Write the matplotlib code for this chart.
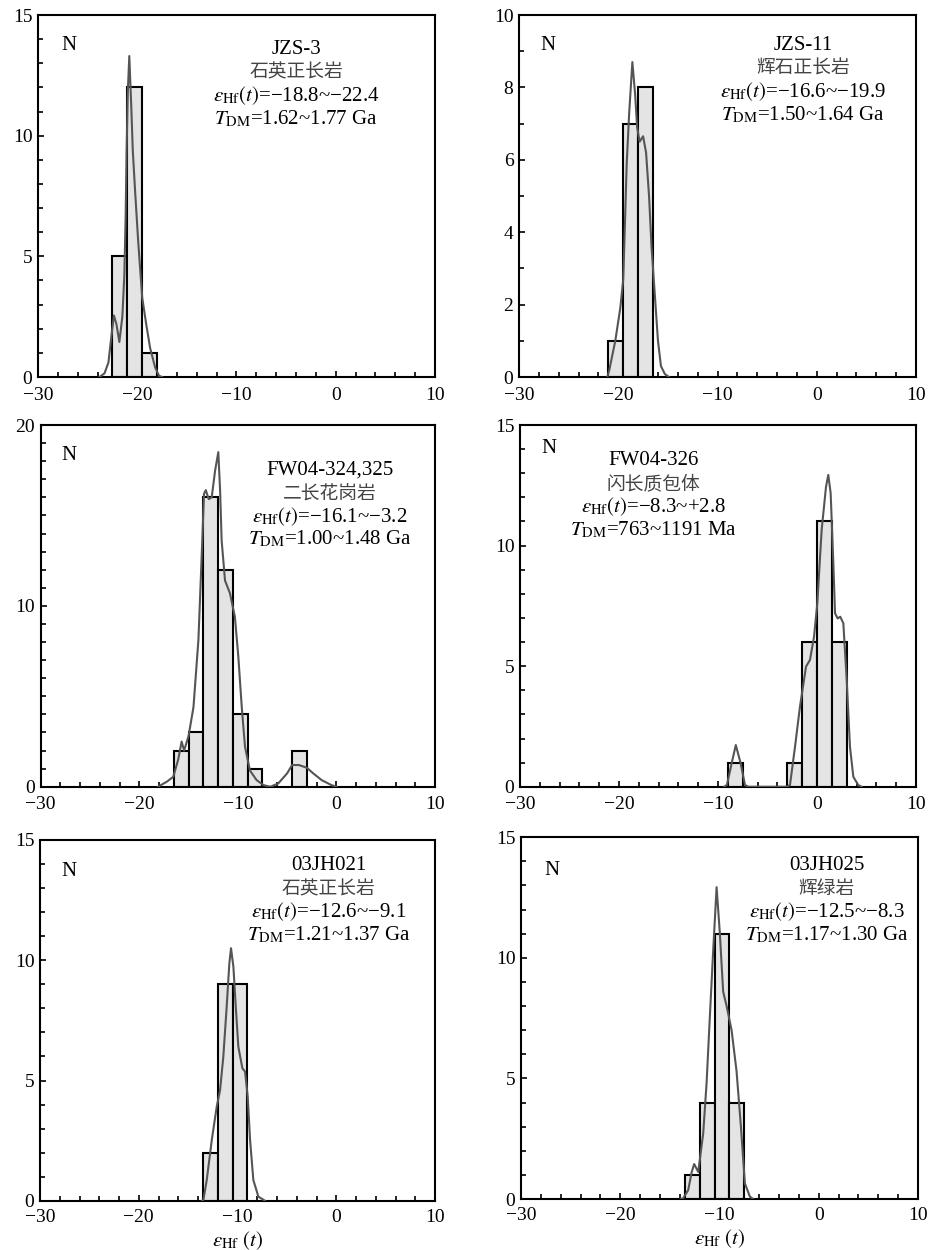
import numpy as np
import matplotlib
matplotlib.use('Agg')
import matplotlib.pyplot as plt
from matplotlib.ticker import MultipleLocator

plt.rcParams['font.family'] = ['Liberation Serif', 'DejaVu Serif']
plt.rcParams['mathtext.fontset'] = 'stix'
plt.rcParams['axes.unicode_minus'] = True

BIN_W = 1.5

# --- histogram bins (left edges) and counts ---
jzs3_bins = [-22.5, -21.0, -19.5]
jzs3_counts = [5, 12, 1]
jzs11_bins = [-21.0, -19.5, -18.0]
jzs11_counts = [1, 7, 8]
fw324_bins = [-16.5, -15.0, -13.5, -12.0, -10.5, -9.0, -4.5]
fw324_counts = [2, 3, 16, 12, 4, 1, 2]
fw326_bins = [-9.0, -3.0, -1.5, 0.0, 1.5]
fw326_counts = [1, 1, 6, 11, 6]
jh021_bins = [-13.5, -12.0, -10.5]
jh021_counts = [2, 9, 9]
jh025_bins = [-13.5, -12.0, -10.5, -9.0]
jh025_counts = [1, 4, 11, 4]

# --- probability curves, points ---
jzs3_cx = [-23.8, -23.3, -22.9, -22.6, -22.35, -22.1, -21.8, -21.5, -21.3, -21.17, -21.07,
           -20.95, -20.8, -20.6, -20.45, -20.2, -19.9, -19.5, -19.1, -18.7, -18.2, -17.8, -17.5]
jzs3_cy = [0, 0.15, 0.6, 1.7, 2.55, 2.2, 1.45, 2.5, 4.2, 6.6, 9.4,
           11.8, 13.3, 11.2, 9.4, 7.6, 5.6, 3.3, 2.2, 1.2, 0.4, 0.05, 0]
jzs11_cx = [-21.1, -20.9, -20.6, -20.3, -19.8, -19.5, -19.3, -19.15, -18.9, -18.58, -18.3,
            -18.1, -17.85, -17.5, -17.2, -16.9, -16.65, -16.3, -16.0, -15.7, -15.3, -14.9]
jzs11_cy = [0, 0.2, 0.6, 1.0, 1.9, 2.7, 4.5, 5.9, 7.3, 8.7, 7.8,
            6.9, 6.5, 6.65, 6.2, 5.0, 3.6, 2.2, 1.0, 0.3, 0.08, 0]
fw324_cx = [-18.1, -17.2, -16.55, -16.05, -15.7, -15.45, -15.0, -14.5, -14.0, -13.67, -13.43,
            -13.25, -12.95, -12.65, -12.3, -11.98, -11.8, -11.64, -11.3, -10.8, -10.3, -9.95,
            -9.6, -9.27, -8.77, -8.1, -7.4, -6.7, -5.9, -5.0, -4.5, -3.8, -3.0, -2.35, -1.5,
            -0.5, 0.0]
fw324_cy = [0, 0.28, 0.55, 1.5, 2.5, 2.0, 2.8, 4.4, 8.1, 12.7, 16.2,
            16.4, 15.9, 16.0, 17.5, 18.5, 16.4, 13.6, 11.4, 10.7, 9.4, 7.2,
            4.4, 2.2, 0.9, 0.37, 0.09, 0, 0.18, 0.74, 1.2, 1.2, 1.05, 0.74, 0.37,
            0.09, 0]
fw326_cx = [-9.4, -9.1, -8.62, -8.2, -7.71, -7.27, -6.9, -3.1, -2.73, -2.22, -1.72, -1.11,
            -0.71, -0.3, 0.03, 0.47, 0.91, 1.14, 1.38, 1.65, 1.82, 2.09, 2.35, 2.66, 3.0,
            3.33, 3.67, 4.17, 4.5]
fw326_cy = [0, 0.07, 0.97, 1.73, 0.97, 0.07, 0, 0, 0.07, 1.66, 3.32, 4.98,
            5.26, 6.22, 7.6, 10.65, 12.44, 12.93, 12.17, 9.27, 7.19, 6.98, 7.05, 6.78, 4.43,
            1.66, 0.41, 0.07, 0]
jh021_cx = [-13.6, -13.46, -13.12, -12.61, -12.11, -11.77, -11.44, -11.1, -10.83, -10.66,
            -10.42, -10.18, -9.92, -9.51, -9.24, -8.97, -8.73, -8.4, -7.89, -7.22]
jh021_cy = [0, 0.03, 0.86, 2.52, 3.91, 4.6, 5.99, 8.07, 9.87, 10.5,
            9.73, 8.07, 6.4, 5.51, 5.37, 4.33, 2.52, 0.86, 0.17, 0]
jh025_cx = [-13.9, -13.66, -13.15, -12.81, -12.55, -12.14, -11.64, -11.3, -10.97, -10.63,
            -10.29, -9.96, -9.63, -9.28, -8.78, -8.28, -7.84, -7.44, -6.94, -6.6]
jh025_cy = [0, 0.03, 0.37, 1.1, 1.45, 1.12, 2.72, 4.8, 7.56, 10.33,
            12.93, 11.0, 8.6, 8.0, 7.0, 5.3, 3.0, 0.65, 0.1, 0]

# --- labels ---
sample_names = ['JZS-3', 'JZS-11', 'FW04-324,325', 'FW04-326', '03JH021', '03JH025']
rock_names = ['石英正长岩', '辉石正长岩', '二长花岗岩', '闪长质包体', '石英正长岩', '辉绿岩']
ehf_ranges = ['−18.8~−22.4', '−16.6~−19.9', '−16.1~−3.2', '−8.3~+2.8', '−12.6~−9.1', '−12.5~−8.3']
tdm_ranges = ['1.62~1.77 Ga', '1.50~1.64 Ga', '1.00~1.48 Ga', '763~1191 Ma', '1.21~1.37 Ga', '1.17~1.30 Ga']
y_max = [15, 10, 20, 15, 15, 15]
y_major = [5, 2, 10, 5, 5, 5]

bins = [jzs3_bins, jzs11_bins, fw324_bins, fw326_bins, jh021_bins, jh025_bins]
counts = [jzs3_counts, jzs11_counts, fw324_counts, fw326_counts, jh021_counts, jh025_counts]
curve_x = [jzs3_cx, jzs11_cx, fw324_cx, fw326_cx, jh021_cx, jh025_cx]
curve_y = [jzs3_cy, jzs11_cy, fw324_cy, fw326_cy, jh021_cy, jh025_cy]

# axes rectangles (figure fraction) and text block placement (axes fraction)
rects = [[0.0408, 0.6984, 0.4264, 0.2896],
         [0.5575, 0.6984, 0.4264, 0.2896],
         [0.0437, 0.3706, 0.4235, 0.2894],
         [0.5585, 0.3706, 0.4254, 0.2894],
         [0.0430, 0.0394, 0.4243, 0.2886],
         [0.5596, 0.0408, 0.4264, 0.2894]]
text_x = [0.65, 0.715, 0.734, 0.338, 0.73, 0.77]
text_y = [0.906, 0.917, 0.876, 0.901, 0.928, 0.923]
n_pos = [(0.06, 0.917), (0.053, 0.917), (0.053, 0.917), (0.055, 0.936), (0.055, 0.914), (0.06, 0.907)]
line_step = 0.064

fig = plt.figure(figsize=(9.31, 12.5), dpi=100)

for i in range(6):
    ax = fig.add_axes(rects[i])
    ax.bar(bins[i], counts[i], width=BIN_W, align='edge', color='#e4e4e4',
           edgecolor='black', linewidth=1.5, zorder=2)
    ax.plot(curve_x[i], curve_y[i], color='#555555', linewidth=1.5, zorder=3)

    ax.set_xlim(-30, 10)
    ax.set_ylim(0, y_max[i])
    ax.xaxis.set_major_locator(MultipleLocator(10))
    ax.xaxis.set_minor_locator(MultipleLocator(2))
    ax.yaxis.set_major_locator(MultipleLocator(y_major[i]))
    ax.yaxis.set_minor_locator(MultipleLocator(1))
    ax.tick_params(which='both', direction='in', top=False, right=False,
                   labelsize=14, width=1.2)
    ax.tick_params(axis='y', which='both', pad=4)
    ax.tick_params(axis='x', which='both', pad=7 if i < 4 else 6)
    ax.tick_params(which='major', length=4)
    ax.tick_params(which='minor', length=3.5)
    for sp in ax.spines.values():
        sp.set_linewidth(1.5)

    ax.text(n_pos[i][0], n_pos[i][1], 'N', transform=ax.transAxes,
            fontsize=15, ha='left', va='center')
    tx, ty = text_x[i], text_y[i]
    ax.text(tx, ty, sample_names[i], transform=ax.transAxes,
            fontsize=15, ha='center', va='center')
    ax.text(tx, ty - line_step, rock_names[i], transform=ax.transAxes,
            fontsize=13.5, ha='center', va='center', color='#444444',
            family=['Noto Sans CJK SC', 'DejaVu Sans'])
    ax.text(tx, ty - 2 * line_step,
            r'$\varepsilon_{\mathrm{Hf}}(t)$=' + ehf_ranges[i],
            transform=ax.transAxes, fontsize=15, ha='center', va='center')
    ax.text(tx, ty - 3 * line_step,
            r'$T_{\mathrm{DM}}$=' + tdm_ranges[i],
            transform=ax.transAxes, fontsize=15, ha='center', va='center')

    if i >= 4:
        ax.set_xlabel(r'$\varepsilon_{\mathrm{Hf}}\ (t)$', fontsize=15, labelpad=2)

fig.savefig('out.png', dpi=100)
